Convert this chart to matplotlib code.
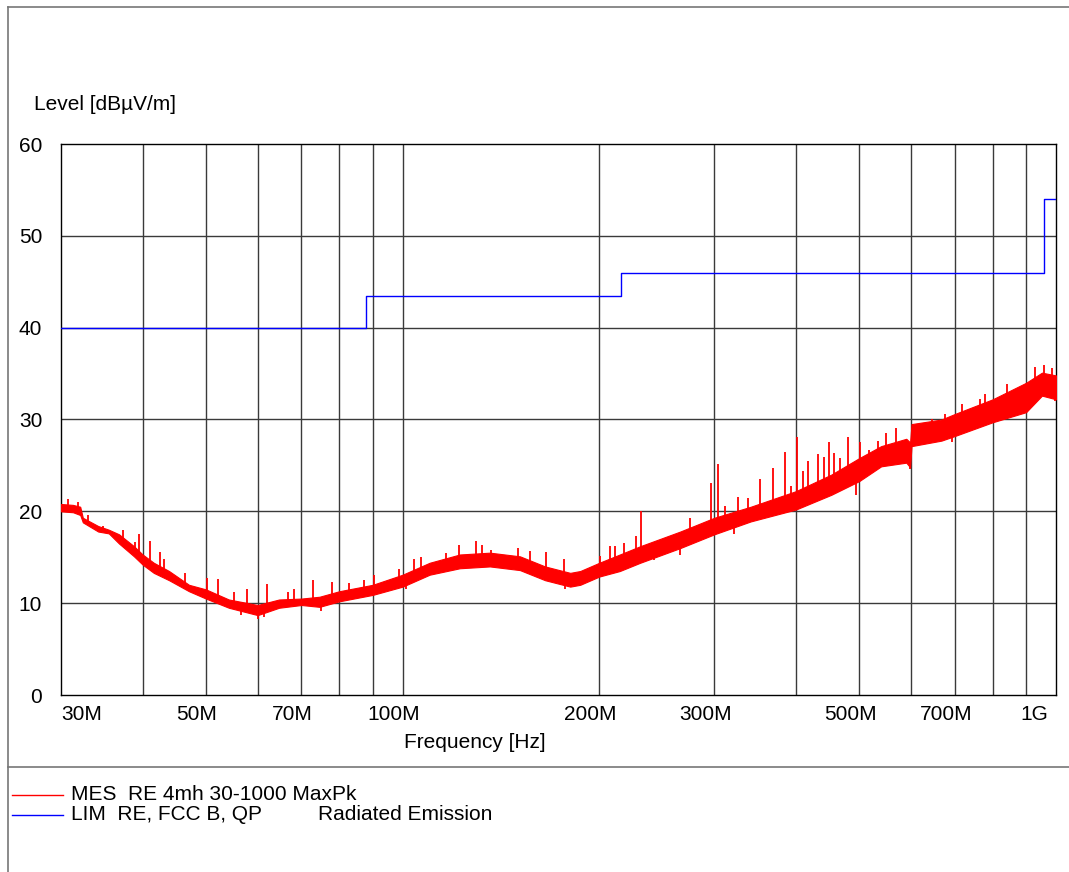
import numpy as np
import matplotlib
matplotlib.use("Agg")
import matplotlib.pyplot as plt
from matplotlib.lines import Line2D
from matplotlib.transforms import ScaledTranslation

plt.rcParams.update({"font.family": ["Liberation Sans", "DejaVu Sans"], "font.size": 15})

W, H = 1069, 872

# limit line RE, FCC B, QP  (MHz, dBuV/m)
LIM_F = [30, 88, 216, 960, 1000]
LIM_DB = [40, 43.5, 46, 54, 54]

# measured MaxPk trace: core of the noise band, lower / upper edge (MHz, dBuV/m)
MES_F = [30, 31.3, 32.1, 32.4, 34.2, 35.5, 36.8, 38.8, 40, 41.6, 43.9, 47.1, 50, 54.2, 60,
         64.7, 70, 74.6, 80, 90, 100, 110, 122.3, 136.0, 151.2, 165.2, 180.5, 187.0, 200,
         215, 231, 266, 300, 341, 400, 453, 500, 540, 590, 598, 601, 668, 700, 800, 900,
         951.7, 1000]
MES_LO = [20.0, 19.9, 19.6, 18.8, 17.8, 17.6, 16.5, 15.1, 14.2, 13.3, 12.5, 11.3, 10.5, 9.5, 8.7,
          9.5, 9.8, 9.6, 10.2, 10.9, 11.8, 13.1, 13.8, 14.0, 13.6, 12.5, 11.8, 12.0, 12.9,
          13.5, 14.4, 16.0, 17.5, 18.9, 20.2, 21.8, 23.3, 24.9, 25.3, 24.8, 27.1, 27.7, 28.2, 29.7, 30.8,
          32.6, 32.2]
MES_HI = [20.8, 20.7, 20.5, 19.3, 18.4, 18.0, 17.5, 16.2, 15.3, 14.4, 13.5, 12.0, 11.5, 10.4, 9.8,
          10.4, 10.5, 10.7, 11.3, 12.0, 13.1, 14.4, 15.3, 15.5, 15.1, 14.0, 13.3, 13.5, 14.4,
          15.3, 16.2, 17.8, 19.3, 20.5, 22.2, 24.0, 25.8, 27.1, 27.9, 27.5, 29.5, 30.0, 30.6, 32.2, 34.0,
          35.1, 34.8]

# single peaks sticking out of the band
SPK_UP_F = [30.8, 31.8, 33.0, 34.8, 37.3, 38.9, 39.5, 41.0, 42.5, 43.2, 46.5, 50.2, 52.2, 55.2,
            57.7, 62.0, 66.7, 68.3, 72.8, 77.9, 82.9, 87.4, 90.3, 98.7, 104.1, 106.5, 116.7,
            122.0, 129.3, 132.1, 136.5, 150.3, 156.7, 165.6, 176.3, 200.7, 208.0, 211.7, 218.0,
            228.0, 231.8, 275.4, 296.2, 303.9, 312.0, 325.5, 337.3, 351.9, 368.5, 384.5, 393.2,
            401.2, 410.7, 418.0, 433.0, 440.8, 449.3, 457.3, 467.1, 480.9, 501.2, 517.4, 534.2,
            550.1, 568.4, 645.0, 676.1, 717.1, 765.0, 778.7, 841.8, 873.4, 927.5, 957.5, 986.0]
SPK_UP_DB = [21.3, 21.0, 19.6, 18.4, 18.0, 16.7, 17.5, 16.8, 15.6, 14.8, 13.3, 12.7, 12.6, 11.2,
             11.5, 12.1, 11.2, 11.5, 12.5, 12.3, 12.2, 12.5, 13.1, 13.7, 14.8, 15.0, 15.5,
             16.3, 16.8, 16.3, 15.8, 16.0, 15.7, 15.6, 14.8, 15.1, 16.2, 16.2, 16.5,
             17.3, 20.0, 19.3, 23.1, 25.2, 20.6, 21.6, 21.5, 23.5, 24.7, 26.5, 22.8,
             28.1, 24.4, 25.5, 26.2, 25.9, 27.5, 26.4, 25.8, 28.1, 27.6, 26.7, 27.7,
             28.5, 29.1, 30.0, 30.6, 31.7, 32.2, 32.8, 33.9, 33.2, 35.7, 35.9, 35.6]
SPK_DN_F = [56.5, 60.0, 61.4, 75.0, 101.1, 177.4, 242.4, 266, 321.6, 494.7, 597.3, 692.1, 997.5]
SPK_DN_DB = [8.7, 8.3, 8.5, 9.1, 11.5, 11.5, 14.7, 15.2, 17.5, 21.8, 24.6, 27.5, 32.0]

X_TICKS = [30, 50, 70, 100, 200, 300, 500, 700, 1000]
X_LABELS = ["30M", "50M", "70M", "100M", "200M", "300M", "500M", "700M", "1G"]
X_GRID = [40, 50, 60, 70, 80, 90, 100, 200, 300, 400, 500, 600, 700, 800, 900]
Y_TICKS = [0, 10, 20, 30, 40, 50, 60]

fig = plt.figure(figsize=(W / 100, H / 100), dpi=100)
ax = fig.add_axes([61 / W, 1 - 695 / H, 995 / W, 551 / H])

for f in X_GRID:
    ax.axvline(f, color="#3a3a3a", lw=1.0, zorder=1)
for y in Y_TICKS[1:-1]:
    ax.axhline(y, color="#3a3a3a", lw=1.0, zorder=1)

red = "#ff0000"
ax.fill_between(MES_F, MES_LO, MES_HI, color=red, lw=0.8, zorder=3)
mid = (np.array(MES_LO) + np.array(MES_HI)) / 2
lf = np.log10(MES_F)
ax.vlines(SPK_UP_F, np.interp(np.log10(SPK_UP_F), lf, mid), SPK_UP_DB, color=red, lw=1.3, zorder=3)
ax.vlines(SPK_DN_F, SPK_DN_DB, np.interp(np.log10(SPK_DN_F), lf, mid), color=red, lw=1.3, zorder=3)

ax.plot(LIM_F, LIM_DB, color="#0000ff", lw=1.0, drawstyle="steps-post", zorder=4)

ax.set_xscale("log")
ax.set_xlim(30, 1000)
ax.set_ylim(0, 60)
ax.set_xticks(X_TICKS)
ax.set_xticklabels(X_LABELS)
ax.xaxis.set_minor_locator(matplotlib.ticker.NullLocator())
ax.set_yticks(Y_TICKS)
ax.tick_params(length=0, labelsize=15)
ax.tick_params(axis="x", pad=7)
ax.tick_params(axis="y", pad=13.5)
for s in ax.spines.values():
    s.set_color("black")
    s.set_linewidth(1.0)

labels = ax.get_xticklabels()
for lab in labels:
    lab.set_transform(lab.get_transform() + ScaledTranslation(-0.09, 0, fig.dpi_scale_trans))
labels[0].set_horizontalalignment("left")
labels[0].set_transform(labels[0].get_transform() + ScaledTranslation(0.09, 0, fig.dpi_scale_trans))
labels[-1].set_horizontalalignment("right")
labels[-1].set_transform(labels[-1].get_transform() + ScaledTranslation(0.01, 0, fig.dpi_scale_trans))

fig.text(34 / W, 1 - 104 / H, "Level [dBµV/m]", ha="left", va="center", fontsize=15)
fig.text(475 / W, 1 - 742 / H, "Frequency [Hz]", ha="center", va="center", fontsize=15)

# frame and legend area
fc = "#777777"
fig.add_artist(Line2D([7.5 / W, 7.5 / W], [0, 1 - 7.5 / H], color=fc, lw=1.2))
fig.add_artist(Line2D([7.5 / W, 1], [1 - 7.5 / H, 1 - 7.5 / H], color=fc, lw=1.2))
fig.add_artist(Line2D([7.5 / W, 1], [1 - 767 / H, 1 - 767 / H], color=fc, lw=1.2))

fig.add_artist(Line2D([12 / W, 63 / W], [1 - 795 / H, 1 - 795 / H], color=red, lw=1.0))
fig.add_artist(Line2D([12 / W, 63 / W], [1 - 815 / H, 1 - 815 / H], color="#0000ff", lw=1.0))
fig.text(71 / W, 1 - 794 / H, "MES  RE 4mh 30-1000 MaxPk", ha="left", va="center", fontsize=15)
fig.text(71 / W, 1 - 814 / H, "LIM  RE, FCC B, QP", ha="left", va="center", fontsize=15)
fig.text(318 / W, 1 - 814 / H, "Radiated Emission", ha="left", va="center", fontsize=15)

fig.savefig("out.png", dpi=100)
